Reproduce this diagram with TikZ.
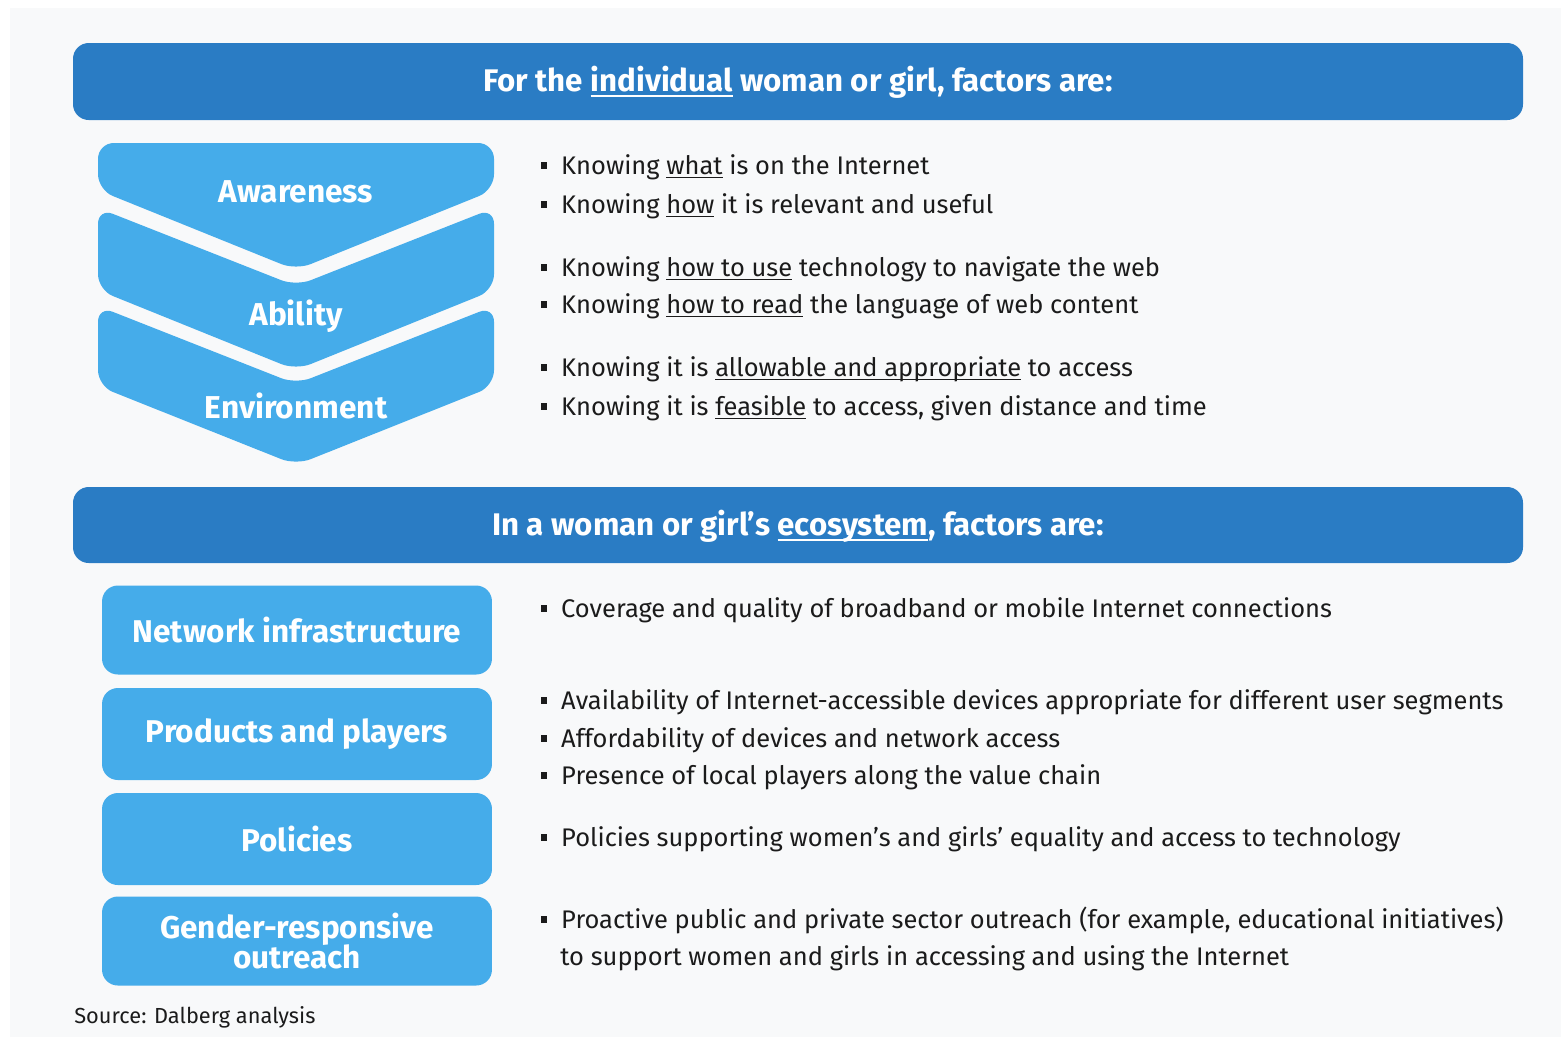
\documentclass[tikz,border=0pt]{standalone}
\usepackage{fontspec}
\setmainfont{Fira Sans}
\definecolor{barblue}{HTML}{2A7CC4}
\definecolor{boxblue}{HTML}{45ACEA}
\definecolor{panelgrey}{HTML}{E9EDF1}
\definecolor{panellight}{HTML}{F8F9FA}
\definecolor{inkdark}{HTML}{1B1B1B}
\newcommand{\bul}{\makebox[11.3pt][l]{\rule[0.22em]{0.24em}{0.24em}}}
\newcommand{\uln}[1]{\setbox0\hbox{#1}\rlap{\rule[-0.17em]{\wd0}{0.055em}}\box0\relax}
\pgfdeclareradialshading{panelglow}{\pgfpoint{0bp}{0bp}}{color(0bp)=(panellight); color(38bp)=(panellight); color(71bp)=(panelgrey)}

\begin{document}
\begin{tikzpicture}[x=0.02cm,y=-0.02cm]
\tikzset{headbar/.style = {fill=barblue, rounded corners=9pt}}
\tikzset{headtext/.style = {text=white, font=\fontsize{17.8}{20}\selectfont\bfseries}}
\tikzset{chevron/.style = {fill=boxblue, rounded corners=9pt}}
\tikzset{chevtext/.style = {text=white, font=\fontsize{18}{20}\selectfont\bfseries}}
\tikzset{factorbox/.style = {fill=boxblue, rounded corners=9pt, text=white, align=center,
  minimum width=7.8cm, font=\fontsize{17.9}{17.6}\selectfont\bfseries}}
\tikzset{item/.style = {anchor=west, inner sep=0pt, text height=10pt, text depth=3pt,
  text=inkdark, font=\fontsize{14.5}{16}\selectfont}}

\useasboundingbox (0,0) rectangle (1561,1036);
% background panel
\fill[white] (0,0) rectangle (1561,1036);
\shade[shading=panelglow] (10,8) rectangle (1561,1036);

% individual factors
\fill[headbar] (73,43) rectangle (1523,120);
\node[headtext] (indhead) at (798,82) {For the \uln{individual} woman or girl, factors are:};

\fill[chevron] (98,143) -- (494,143) -- (494,190) -- (296,270) -- (98,190) -- cycle;
\fill[chevron] (98,208) -- (296,286) -- (494,208) -- (494,290) -- (296,370) -- (98,290) -- cycle;
\fill[chevron] (98,306) -- (296,384) -- (494,306) -- (494,386) -- (296,465) -- (98,386) -- cycle;

\node[chevtext] (aware) at (296,192) {Awareness};
\node[chevtext] (able) at (296,316) {Ability};
\node[chevtext] (env) at (296,406) {Environment};

\node[item] (aw1) at (541,168) {\bul Knowing \uln{what} is on the Internet};
\node[item] (aw2) at (541,207) {\bul Knowing \uln{how} it is relevant and useful};
\node[item] (ab1) at (541,270) {\bul Knowing \uln{how to use} technology to navigate the web};
\node[item] (ab2) at (541,307) {\bul Knowing \uln{how to read} the language of web content};
\node[item] (en1) at (541,370) {\bul Knowing it is \uln{allowable and appropriate} to access};
\node[item] (en2) at (541,409) {\bul Knowing it is \uln{feasible} to access, given distance and time};

% ecosystem factors
\fill[headbar] (73,487) rectangle (1523,563);
\node[headtext] (ecohead) at (798,526) {In a woman or girl’s \uln{ecosystem}, factors are:};

\node[factorbox, minimum height=1.78cm] (net) at (297,630) {Network infrastructure};
\node[factorbox, minimum height=1.84cm] (prod) at (297,734) {Products and players};
\node[factorbox, minimum height=1.84cm] (pol) at (297,839) {Policies};
\node[factorbox, minimum height=1.78cm] (gen) at (297,941) {Gender-responsive\\outreach};

\node[item] (ne1) at (541,611) {\bul Coverage and quality of broadband or mobile Internet connections};
\node[item] (pr1) at (541,703) {\bul Availability of Internet-accessible devices appropriate for different user segments};
\node[item] (pr2) at (541,741) {\bul Affordability of devices and network access};
\node[item] (pr3) at (541,778) {\bul Presence of local players along the value chain};
\node[item] (po1) at (541,840) {\bul Policies supporting women’s and girls’ equality and access to technology};
\node[item] (ge1) at (541,922) {\bul Proactive public and private sector outreach (for example, educational initiatives)};
\node[item] (ge2) at (560,959) {to support women and girls in accessing and using the Internet};

\node[item, font=\fontsize{12.4}{14}\selectfont] (src) at (74,1017) {Source: Dalberg analysis};
\end{tikzpicture}
\end{document}
